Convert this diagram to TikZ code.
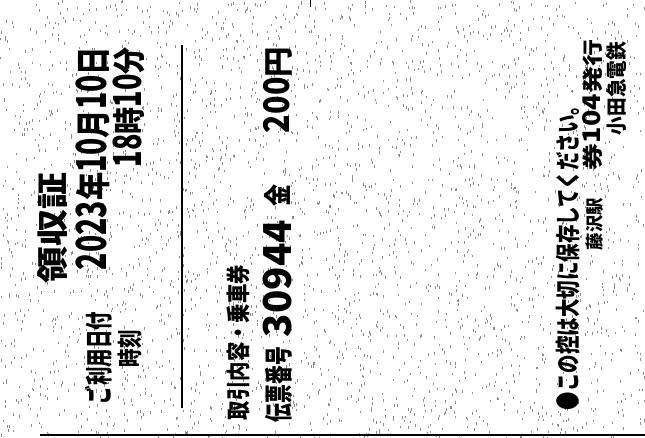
\documentclass[tikz,border=0pt]{standalone}
\usepackage{fontspec}
\usepackage{graphicx}
\newfontfamily\jp{Noto Sans CJK JP}
\newcommand{\fitbox}[3]{\resizebox*{#1pt}{#2pt}{#3}}
\newcommand{\dg}[1]{\scalebox{1}[1.18]{#1}}
\begin{document}
\begin{tikzpicture}[x=1pt,y=-1pt,
  txt/.style={rotate=90, anchor=south west, inner sep=0pt, outer sep=0pt,
    font=\jp\bfseries\fontsize{30}{30}\selectfont},
  speck/.style={fill=black!45},
  rule/.style={draw=black, line width=2.5pt},
  baserule/.style={draw=black, line width=1.5pt}]
\useasboundingbox (0,0) rectangle (645,437);
\fill[white] (0,0) rectangle (645,437);
% scanner speckle
\pgfmathsetseed{7}
\foreach \i in {1,...,3000}{
  \pgfmathsetmacro\sx{rnd*645}
  \pgfmathsetmacro\sy{rnd*437}
  \fill[speck] (\sx,\sy) rectangle ++(1,2.5);
}
% left block
\node[txt] (title) at (68,283) {\fitbox{111}{30}{領収証}};
\node[txt] (datelbl) at (112,404) {\fitbox{92}{27}{ご利用日付}};
\node[txt] (date) at (110,270) {\fitbox{223}{34}{\dg{2023}年\dg{10}月\dg{10}日}};
\node[txt] (timelbl) at (142,367) {\fitbox{37}{24}{時刻}};
\node[txt] (time) at (145,167) {\fitbox{120}{32}{\dg{18}時\dg{10}分}};
% separator
\coordinate (r1) at (182,45);
\coordinate (r2) at (182,408);
\draw[rule] (r1) -- (r2);
% middle block
\node[txt] (item) at (250,420) {\fitbox{155}{23}{取引内容・乗車券}};
\node[txt] (slipl) at (292,422) {\fitbox{75}{27}{伝票番号}};
\node[txt] (slip) at (292,337) {\fitbox{117}{29}{30944}};
\node[txt] (kin) at (290,206) {\fitbox{22}{26}{金}};
\node[txt] (amount) at (292,133) {\fitbox{86}{29}{\dg{200}円}};
% right block
\node[txt] (note) at (580,410) {\fitbox{313}{24}{●この控は大切に保存してください。}};
\node[txt] (stn) at (603,250) {\fitbox{52}{17}{藤沢駅}};
\node[txt] (iss) at (603,170) {\fitbox{130}{20}{券\dg{104}発行}};
\node[txt] (co) at (627,135) {\fitbox{93}{20}{小田急電鉄}};
% bottom edge and tick
\coordinate (b1) at (40,435);
\coordinate (b2) at (645,435);
\draw[baserule] (b1) -- (b2);
\coordinate (t1) at (310,0);
\coordinate (t2) at (310,7);
\draw[line width=1pt] (t1) -- (t2);
\end{tikzpicture}
\end{document}
